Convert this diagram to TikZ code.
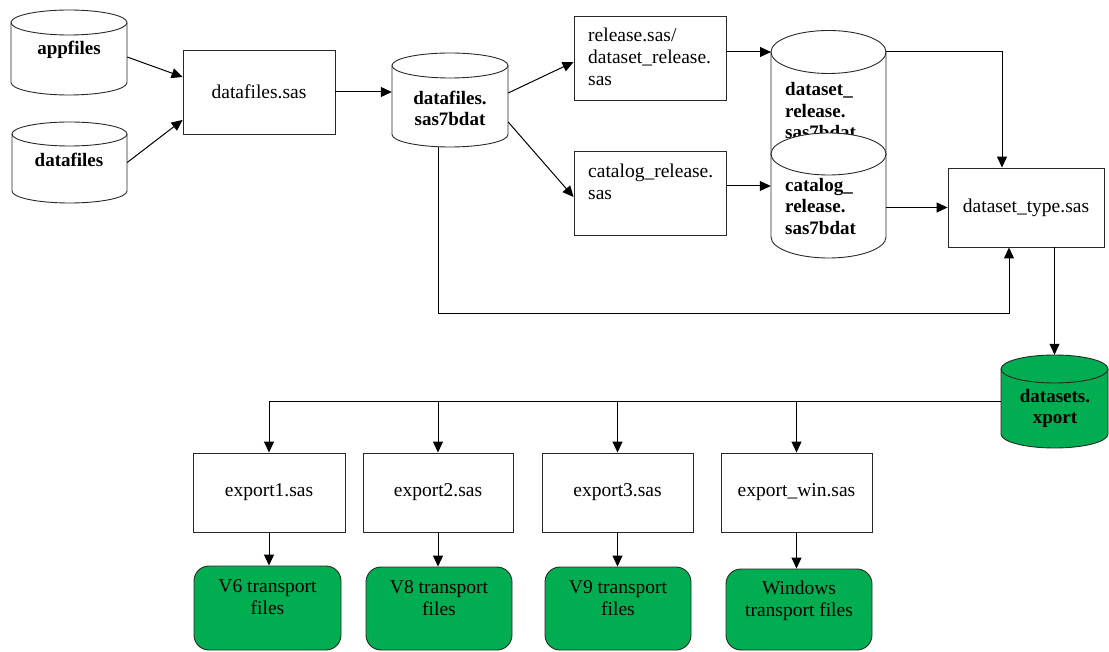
\documentclass[tikz,border=0pt]{standalone}
\usepackage{fontspec}
\setmainfont{Liberation Serif}
\newfontfamily\diafont{Liberation Serif}
\usetikzlibrary{arrows.meta,calc,fit}
\definecolor{grn}{RGB}{0,173,80}
\definecolor{edge}{RGB}{40,40,40}
% #1 name, #2 x left, #3 x right, #4 top ellipse centre (px from top), #5 bottom ellipse centre, #6 y radius, #7 fill
\newcommand\mycylinder[7]{%
  \pgfmathsetmacro\cylrx{(#3-#2)/2}%
  \draw[cyl, fill=#7] (#2,-#4) -- (#2,-#5) arc[start angle=180,end angle=360,x radius=\cylrx,y radius=#6]
     -- (#3,-#4) arc[start angle=0,end angle=180,x radius=\cylrx,y radius=#6] -- cycle;
  \draw[cyl] (#2,-#4) arc[start angle=180,end angle=360,x radius=\cylrx,y radius=#6];
  \node[fit={(#2,-#4+#6)(#3,-#5-#6)},inner sep=0pt] (#1) {};
  \coordinate (#1-tl) at (#2,-#4);
  \coordinate (#1-tr) at (#3,-#4);
}
\begin{document}
\begin{tikzpicture}[x=1pt,y=1pt,
  txt/.style={font=\diafont\fontsize{19.5}{22}\selectfont, inner sep=0pt},
  btxt/.style={font=\diafont\fontsize{19}{21.5}\selectfont\bfseries, inner sep=0pt},
  box/.style={draw=edge, line width=0.9pt, inner sep=0pt, font=\diafont\fontsize{19.5}{22}\selectfont},
  gbox/.style={draw=edge, fill=grn, rounded corners=15pt, line width=0.9pt, inner sep=0pt},
  cyl/.style={draw=edge, line width=0.9pt},
  arr/.style={draw=black, line width=1pt, -{Triangle[length=11pt,width=10pt]}},
  ln/.style={draw=black, line width=1pt}]
\useasboundingbox (0,0) rectangle (1109,-652);

% cylinders
\mycylinder{appf}{11}{127}{22.5}{82.5}{12.5}{white}
\node[btxt] (appT) at (69,-50) {appfiles};
\mycylinder{dfc}{12}{127}{134}{191}{12}{white}
\node[btxt] (dfT) at (69,-160) {datafiles};
\mycylinder{sas7}{392}{508}{65.5}{134.5}{12.5}{white}
\node[btxt, align=center] (sas7T) at (450,-108.5) {datafiles.\\sas7bdat};
\mycylinder{dsrel}{771}{886}{52}{154}{21.5}{white}
\node[btxt, align=left, anchor=west] (dsrelT) at (785,-111) {dataset\_\\release.\\sas7bdat};
\mycylinder{catc}{771}{886}{154}{237}{21}{white}
\node[btxt, align=left, anchor=west] (catT) at (785,-206.5) {catalog\_\\release.\\sas7bdat};
\mycylinder{xport}{1001}{1108}{369}{434}{14}{grn}
\node[btxt, align=center] (xportT) at (1055,-408.5) {datasets.\\xport};

% boxes
\node[box, minimum width=152pt, minimum height=84pt] (dfsas) at (259,-92) {datafiles.sas};
\node[box, minimum width=152pt, minimum height=84pt] (rel) at (650,-58) {};
\node[txt, align=left, anchor=west] (relT) at (588,-57) {release.sas/\\dataset\_release.\\sas};
\node[box, minimum width=152pt, minimum height=84pt] (catb) at (650,-193) {};
\node[txt, align=left, anchor=west] (catbT) at (588,-181.5) {catalog\_release.\\sas};
\node[box, minimum width=156pt, minimum height=79pt] (dtype) at (1026,-207.5) {dataset\_type.sas};

\node[box, minimum width=152pt, minimum height=79pt] (ex1) at (269,-492.5) {export1.sas};
\node[box, minimum width=150pt, minimum height=79pt] (ex2) at (438,-492.5) {export2.sas};
\node[box, minimum width=151pt, minimum height=79pt] (ex3) at (617.5,-492.5) {export3.sas};
\node[box, minimum width=151pt, minimum height=79pt] (exw) at (796.5,-492.5) {export\_win.sas};

\node[gbox, minimum width=147pt, minimum height=84pt] (v6) at (267.5,-608) {};
\node[gbox, minimum width=146pt, minimum height=83pt] (v8) at (439,-608.5) {};
\node[gbox, minimum width=146pt, minimum height=83pt] (v9) at (618,-608.5) {};
\node[gbox, minimum width=146pt, minimum height=81pt] (vw) at (799,-609.5) {};
\node[txt, align=center] (v6T) at (267.5,-597.5) {V6 transport\\files};
\node[txt, align=center] (v8T) at (439,-598.5) {V8 transport\\files};
\node[txt, align=center] (v9T) at (618,-598.5) {V9 transport\\files};
\node[txt, align=center] (vwT) at (799,-601) {Windows\\transport files};

% connectors
\draw[arr] ($(appf.east)+(0,-4.5)$) -- ($(dfsas.west)+(0,15)$);
\draw[arr] (dfc.east) -- ($(dfsas.west)+(0,-28)$);
\draw[arr] (dfsas.east) -- (dfsas.east -| sas7.west);
\draw[arr] ($(sas7.east)+(0,7)$) -- ($(rel.west)+(0,-4)$);
\draw[arr] ($(sas7.east)+(0,-22)$) -- ($(catb.west)+(0,-4)$);
\draw[arr] (rel.east |- dsrel-tl) -- (dsrel-tl);
\coordinate (catIn) at ($(catb.east)+(0,7)$);
\draw[arr] (catIn) -- (catIn -| catc.west);
\draw[arr] (dsrel-tr) -| ($(dtype.north)+(-24,0)$);
\draw[arr] (catc.east |- dtype.west) -- (dtype.west);
\draw[arr] ($(sas7.south)+(-12,0)$) -- ++(0,-166) -| ($(dtype.south)+(-17,0)$);
\draw[arr] (xport.north |- dtype.south) -- (xport.north);
\draw[ln] (xport.west) -- (xport.west -| ex1.north);
\foreach \e/\g in {ex1/v6, ex2/v8, ex3/v9, exw/vw}{
  \draw[arr] (\e.north |- xport.west) -- (\e.north);
  \draw[arr] (\e.south) -- (\e.south |- \g.north);
}
\end{tikzpicture}
\end{document}
